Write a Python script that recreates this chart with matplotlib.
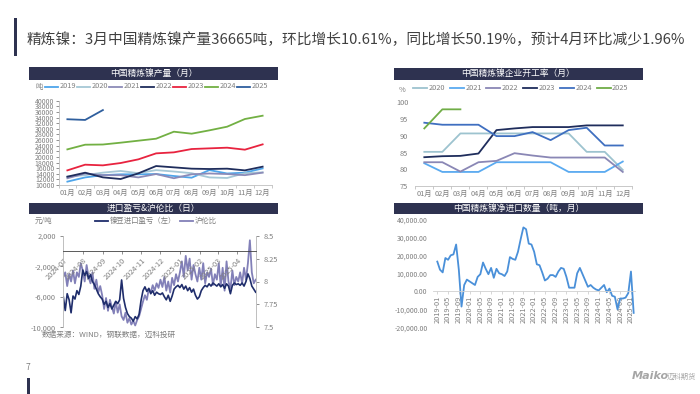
import numpy as np
import pandas as pd
import matplotlib
matplotlib.use('Agg')
import matplotlib.pyplot as plt
from matplotlib.lines import Line2D
from matplotlib.patches import Rectangle
from matplotlib.ticker import FuncFormatter

plt.rcParams['font.family'] = ['Noto Sans CJK SC', 'DejaVu Sans']
plt.rcParams['axes.unicode_minus'] = False

W, H = 700, 394
NAVY = '#2e3250'
GRAY = '#7f7f7f'

months = ['01月', '02月', '03月', '04月', '05月', '06月',
          '07月', '08月', '09月', '10月', '11月', '12月']

# 中国精炼镍产量（吨）
prod_years = ['2019', '2020', '2021', '2022', '2023', '2024', '2025']
prod_2019 = [11200, 12700, 13500, 13800, 13800, 13900, 13200, 12600, 15300, 14100, 14400, 15900]
prod_2020 = [13000, 13500, 14400, 15000, 14200, 15300, 14800, 14200, 12700, 12500, 14200, 14500]
prod_2021 = [12400, 14100, 13500, 13500, 12700, 13900, 12400, 13800, 14100, 13900, 13500, 14400]
prod_2022 = [12960, 14380, 12720, 12130, 14150, 16750, 16280, 15810, 15690, 15810, 15210, 16520]
prod_2023 = [15210, 17230, 16990, 17820, 19130, 21260, 21620, 22800, 23040, 23280, 22570, 24460]
prod_2024 = [22680, 24340, 24410, 25060, 25770, 26480, 28970, 28260, 29450, 30750, 33480, 34660]
prod_2025 = [33400, 33150, 36665]
prod_colors = ['#4ea5ea', '#a6c8d6', '#8c8bb8', '#1f2d5c', '#e8233f', '#72b043', '#2f5f9e']

# 中国精炼镍企业开工率（%）
rate_years = ['2020', '2021', '2022', '2023', '2024', '2025']
rate_2020 = [85.2, 85.2, 90.7, 90.7, 90.7, 90.7, 90.7, 90.7, 90.7, 85.2, 85.2, 79.8]
rate_2021 = [81.8, 79.2, 79.2, 79.2, 82.1, 82.1, 82.1, 82.1, 79.2, 79.2, 79.2, 82.3]
rate_2022 = [82.1, 82.1, 79.3, 82.1, 82.5, 84.8, 84.1, 83.5, 83.5, 83.5, 83.5, 79.2]
rate_2023 = [83.6, 83.9, 84.0, 84.7, 91.7, 92.2, 92.6, 92.6, 92.6, 93.1, 93.1, 93.1]
rate_2024 = [93.9, 93.3, 93.3, 93.3, 89.9, 89.9, 91.1, 88.7, 91.7, 92.4, 87.1, 87.1]
rate_2025 = [92.2, 97.9, 97.9]
rate_colors = ['#9dc3cf', '#5aaaf0', '#8a87b5', '#1f2d5c', '#3f6fc0', '#70ad47']

# 进口盈亏（元/吨）与沪伦比，2024-07 至 2025-04
profit = [-6000, -7800, -5600, -6400, -8100, -5900, -6300, -5200, -5700, -4600,
          -2500, -3200, -2700, -3600, -3100, -4000, -4400, -5000, -5600, -6000,
          -6300, -7000, -6600, -7400, -6900, -7600, -7100, -6600, -6900, -6400,
          -3800, -6200, -7400, -8200, -8600, -8800, -9200, -8600, -8900, -8300,
          -6500, -5200, -4700, -5300, -4900, -5600, -5200, -5800, -5400, -5600,
          -5700, -5500, -6000, -6400, -5800, -6600, -5900, -5000, -4700, -4500,
          -4800, -4400, -5000, -4600, -5200, -4800, -5400, -5000, -5800, -6300,
          -6000, -5200, -4800, -4500, -4700, -4300, -4600, -4200, -4400, -4600,
          -4300, -4700, -4400, -4900, -4300, -4600, -5600, -4500, -4200, -4400,
          -4300, -4500, -4200, -4600, -4000, -3000, -3600, -4600, -5000, -5400]
ratio = [8.05, 8.10, 7.95, 8.08, 8.00, 8.12, 7.98, 8.10, 8.05, 8.20,
         8.12, 8.00, 8.18, 8.05, 7.98, 8.10, 7.92, 8.02, 7.88, 7.95,
         7.85, 7.70, 7.82, 7.68, 7.80, 7.72, 7.65, 7.78, 7.66, 7.75,
         7.62, 7.58, 7.66, 7.55, 7.60, 7.53, 7.57, 7.52, 7.58, 7.62,
         7.70, 7.78, 7.85, 7.80, 7.92, 7.88, 7.96, 7.90, 7.98, 7.93,
         8.02, 7.94, 8.05, 7.90, 8.00, 7.88, 8.04, 7.96, 8.08, 8.00,
         8.10, 8.22, 8.05, 8.28, 8.12, 8.25, 8.02, 8.18, 8.08, 8.00,
         8.15, 8.02, 8.20, 7.98, 8.10, 8.05, 8.14, 7.96, 8.08, 8.02,
         8.20, 7.95, 8.15, 7.90, 8.22, 8.00, 7.92, 8.12, 7.96, 8.05,
         8.00, 8.10, 7.98, 8.15, 8.02, 8.20, 8.45, 8.10, 7.98, 8.02]
daily_dates = pd.date_range('2024-07-01', '2025-04-30', periods=len(profit))
daily_ticks = pd.date_range('2024-07-01', '2025-04-01', freq='MS')

# 中国精炼镍净进口数量（吨），2019-01 至 2025-02
net_import = [16500, 12000, 10500, 18500, 17500, 20000, 20500, 26000, 12000, -8500,
              3500, 6500, 5500, 4500, 3500, 8000, 9500, 16000, 12500, 9500,
              13000, 7500, 12500, 10000, 9500, 8500, 11000, 19000, 18000, 17500,
              22000, 29000, 35500, 34500, 26500, 26000, 22000, 15000, 14500, 10500,
              6000, 7000, 9000, 9000, 8000, 11000, 13000, 12500, 8000, 2000,
              2000, 2000, 10000, 13000, 9500, 6000, 2500, 3500, 2000, 1000,
              500, 2000, 3500, -500, 1500, -2500, -3000, -10000, -4000, -4000,
              -3500, -1000, 11000, -12000]
import_months = pd.period_range('2019-01', periods=len(net_import), freq='M').strftime('%Y-%m')

fig = plt.figure(figsize=(7, 3.94), dpi=100)


def fx(x):
    return x / W


def fy(y):
    return 1 - y / H


def add_axes(x0, y0, x1, y1):
    return fig.add_axes([fx(x0), fy(y1), (x1 - x0) / W, (y1 - y0) / H])


def banner(x0, y0, x1, y1, text):
    fig.add_artist(Rectangle((fx(x0), fy(y1)), (x1 - x0) / W, (y1 - y0) / H,
                             transform=fig.transFigure, color=NAVY, lw=0))
    fig.text(fx((x0 + x1) / 2), fy((y0 + y1) / 2), text, color='white',
             fontsize=6.3, ha='center', va='center')


def legend_row(labels, colors, x0, y, step, line_len=13, fs=5.3):
    for i, (lab, col) in enumerate(zip(labels, colors)):
        xs = x0 + i * step
        fig.add_artist(Line2D([fx(xs), fx(xs + line_len)], [fy(y), fy(y)],
                              transform=fig.transFigure, color=col, lw=1.3))
        fig.text(fx(xs + line_len + 1.5), fy(y), lab, fontsize=fs, color=GRAY,
                 ha='left', va='center')


def style_ax(ax):
    for s in ax.spines.values():
        s.set_color('#bfbfbf')
        s.set_linewidth(0.6)
    ax.tick_params(colors=GRAY, labelsize=5.3, width=0.6, length=2)
    ax.patch.set_visible(False)


# page title
fig.add_artist(Rectangle((fx(14), fy(56)), 2.5 / W, 38 / H, transform=fig.transFigure,
                         color=NAVY, lw=0))
fig.text(fx(27), fy(40), '精炼镍：3月中国精炼镍产量36665吨，环比增长10.61%，同比增长50.19%，预计4月环比减少1.96%',
         fontsize=10.6, color='#404040', ha='left', va='center')

# ---- 产量 ----
banner(29, 67, 278, 79.5, '中国精炼镍产量（月）')
fig.text(fx(36), fy(86.5), '吨', fontsize=5.3, color=GRAY, ha='left', va='center')
legend_row(prod_years, prod_colors, 45, 86.5, 32)
ax1 = add_axes(58.5, 100.7, 271.5, 185)
prod_all = [prod_2019, prod_2020, prod_2021, prod_2022, prod_2023, prod_2024, prod_2025]
for vals, col in zip(prod_all, prod_colors):
    ax1.plot(range(len(vals)), vals, color=col, lw=1.3)
ax1.set_xlim(-0.5, 11.5)
ax1.set_ylim(10000, 40000)
ax1.set_yticks(range(10000, 40001, 2000))
ax1.set_xticks(range(12))
ax1.set_xticklabels(months)
ax1.set_xticks(np.arange(-0.5, 12, 1), minor=True)
style_ax(ax1)
ax1.tick_params(axis='x', which='major', length=0, pad=3)
ax1.tick_params(axis='x', which='minor', length=2.5, color='#bfbfbf')
ax1.tick_params(axis='y', labelsize=5, pad=1)
ax1.spines[['top', 'right']].set_visible(False)

# ---- 开工率 ----
banner(394, 68, 643, 79.5, '中国精炼镍企业开工率（月）')
fig.text(fx(399), fy(90.5), '%', fontsize=5.3, color=GRAY, ha='left', va='center')
legend_row(rate_years, rate_colors, 413, 88.3, 36.7, line_len=14)
ax2 = add_axes(415.3, 102.3, 631.8, 186)
rate_all = [rate_2020, rate_2021, rate_2022, rate_2023, rate_2024, rate_2025]
for vals, col in zip(rate_all, rate_colors):
    ax2.plot(range(len(vals)), vals, color=col, lw=1.3)
ax2.set_xlim(-0.5, 11.5)
ax2.set_ylim(75, 100)
ax2.set_yticks(range(75, 101, 5))
ax2.set_xticks(range(12))
ax2.set_xticklabels(months)
ax2.set_xticks(np.arange(-0.5, 12, 1), minor=True)
style_ax(ax2)
ax2.tick_params(axis='x', which='major', length=0, pad=3)
ax2.tick_params(axis='x', which='minor', length=2.5, color='#bfbfbf')
ax2.tick_params(axis='y', length=0, pad=5)
ax2.spines[['top', 'right', 'left']].set_visible(False)

# ---- 进口盈亏 & 沪伦比 ----
banner(29, 202.5, 278, 213.5, '进口盈亏&沪伦比（日）')
fig.text(fx(35), fy(221), '元/吨', fontsize=5.3, color=GRAY, ha='left', va='center')
legend_row(['镍豆进口盈亏（左）', '沪伦比'], ['#1f2d6b', '#8280b8'], 95, 220.5, 85)
ax3 = add_axes(63.3, 235.7, 255.7, 327.3)
ax3r = ax3.twinx()
ax3r.plot(daily_dates, ratio, color='#8280b8', lw=1.3)
ax3.plot(daily_dates, profit, color='#1f2d6b', lw=1.2)
ax3.set_zorder(ax3r.get_zorder() + 1)
ax3.set_ylim(-10000, 2000)
ax3r.set_ylim(7.5, 8.5)
ax3.set_xlim(daily_dates[0], daily_dates[-1])
ax3.set_yticks([2000, -2000, -6000, -10000])
ax3.yaxis.set_major_formatter(FuncFormatter(lambda v, p: f'{v:,.0f}'))
ax3r.set_yticks([7.5, 7.75, 8, 8.25, 8.5])
ax3r.set_yticklabels(['7.5', '7.75', '8', '8.25', '8.5'])
ax3.set_xticks(daily_ticks)
ax3.set_xticklabels(daily_ticks.strftime('%Y-%m'))
style_ax(ax3)
style_ax(ax3r)
ax3.spines['bottom'].set_position(('data', 0))
ax3.spines['bottom'].set_color('#404040')
ax3.spines['top'].set_visible(False)
ax3r.spines[['top', 'bottom']].set_visible(False)
ax3.tick_params(axis='x', length=2, pad=2, labelsize=5.3, labelrotation=45)
for lab in ax3.get_xticklabels():
    lab.set_horizontalalignment('right')
    lab.set_rotation_mode('anchor')
fig.text(fx(42), fy(334.5), '数据来源：WIND，钢联数据，迈科投研', fontsize=5.5,
         color=GRAY, ha='left', va='center')

# ---- 净进口 ----
banner(394, 202.5, 643, 213.5, '中国精炼镍净进口数量（吨，月）')
ax4 = add_axes(433, 219.3, 635, 327.3)
ax4.plot(range(len(net_import)), net_import, color='#4a90d9', lw=1.3)
ax4.set_xlim(-1.6, 73.5)
ax4.set_ylim(-20000, 40000)
ax4.set_yticks(range(-20000, 40001, 10000))
ax4.yaxis.set_major_formatter(FuncFormatter(lambda v, p: f'{v:,.2f}'))
ax4.set_xticks(range(0, len(net_import), 4))
ax4.set_xticklabels(import_months[::4])
style_ax(ax4)
ax4.spines[['top', 'right', 'left']].set_visible(False)
ax4.spines['bottom'].set_position(('data', 0))
ax4.spines['bottom'].set_color('#d0d0d0')
ax4.tick_params(axis='y', length=0, pad=4, labelsize=5)
ax4.tick_params(axis='x', length=2, pad=1.5, labelsize=5.3, color='#d0d0d0',
                labelrotation=90)

# footer
fig.text(fx(28), fy(368), '7', fontsize=6, color=GRAY, ha='center', va='center')
fig.add_artist(Rectangle((fx(27), fy(394)), 2.5 / W, 16 / H, transform=fig.transFigure,
                         color=NAVY, lw=0))
fig.text(fx(632), fy(376), 'Maiko', fontsize=8, color='#a6a6a6', fontweight='bold',
         fontstyle='italic', family='DejaVu Sans', ha='left', va='center')
fig.text(fx(667), fy(376.5), '迈科期货', fontsize=5.3, color='#a6a6a6', ha='left', va='center')

fig.savefig('out.png', dpi=100)
